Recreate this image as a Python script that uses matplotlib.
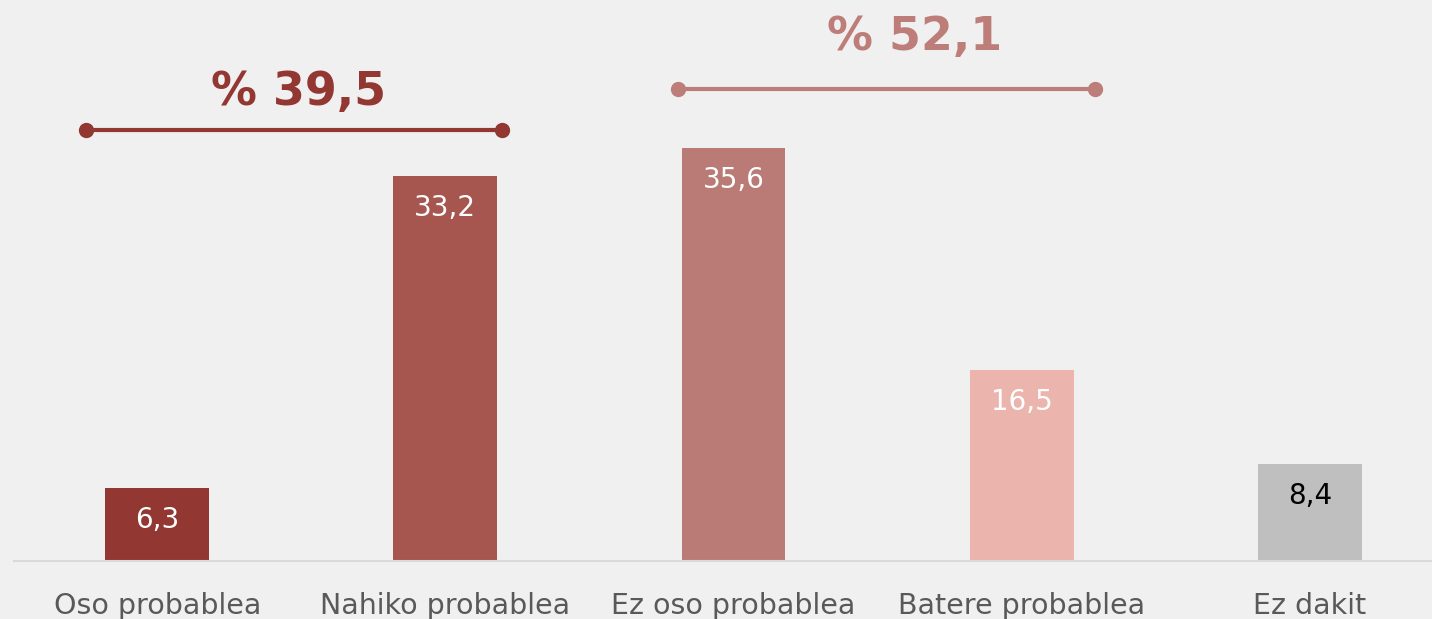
import matplotlib.pyplot as plt

categories = ["Oso probablea", "Nahiko probablea", "Ez oso probablea", "Batere probablea", "Ez dakit"]
values = [6.3, 33.2, 35.6, 16.5, 8.4]
bar_colors = ["#923731", "#A6554F", "#BA7A76", "#EBB5AE", "#BFBFBF"]
label_colors = ["white", "white", "white", "white", "black"]
group_labels = ["% 39,5", "% 52,1"]
group_colors = ["#923731", "#BD7E7A"]

bg = "#F0F0F0"
fig = plt.figure(figsize=(14.32, 6.19), dpi=100, facecolor=bg)
ax = fig.add_axes([14 / 1432, 58 / 619, 1418 / 1432, 561 / 619])
ax.set_facecolor(bg)

x = range(len(categories))
bars = ax.bar(x, values, width=0.36, color=bar_colors)
ax.set_xlim(-0.497, 4.424)
ax.set_ylim(0, 48.36)

for b, v, c in zip(bars, values, label_colors):
    ax.annotate(f"{v:.1f}".replace(".", ","), (b.get_x() + b.get_width() / 2, v),
                xytext=(0, -23), textcoords="offset points",
                ha="center", va="center", fontsize=20, color=c)

# brackets over the grouped bars
brackets = [(-0.247, 1.198, 37.16, 0.49, 40.4), (1.809, 3.253, 40.7, 2.63, 45.1)]
for (x0, x1, y, tx, ty), lab, col in zip(brackets, group_labels, group_colors):
    ax.plot([x0, x1], [y, y], color=col, lw=3, marker="o", ms=10, clip_on=False)
    ax.text(tx, ty, lab, ha="center", va="center", fontsize=33,
            fontweight="bold", color=col)

for s in ["top", "right", "left"]:
    ax.spines[s].set_visible(False)
ax.spines["bottom"].set_color("#D9D9D9")
ax.spines["bottom"].set_linewidth(1.5)
ax.set_yticks([])
ax.set_xticks(list(x))
ax.set_xticklabels(categories, fontsize=20.5, color="#595959")
ax.tick_params(axis="x", length=0, pad=22)

fig.savefig("out.png", dpi=100, facecolor=bg)
